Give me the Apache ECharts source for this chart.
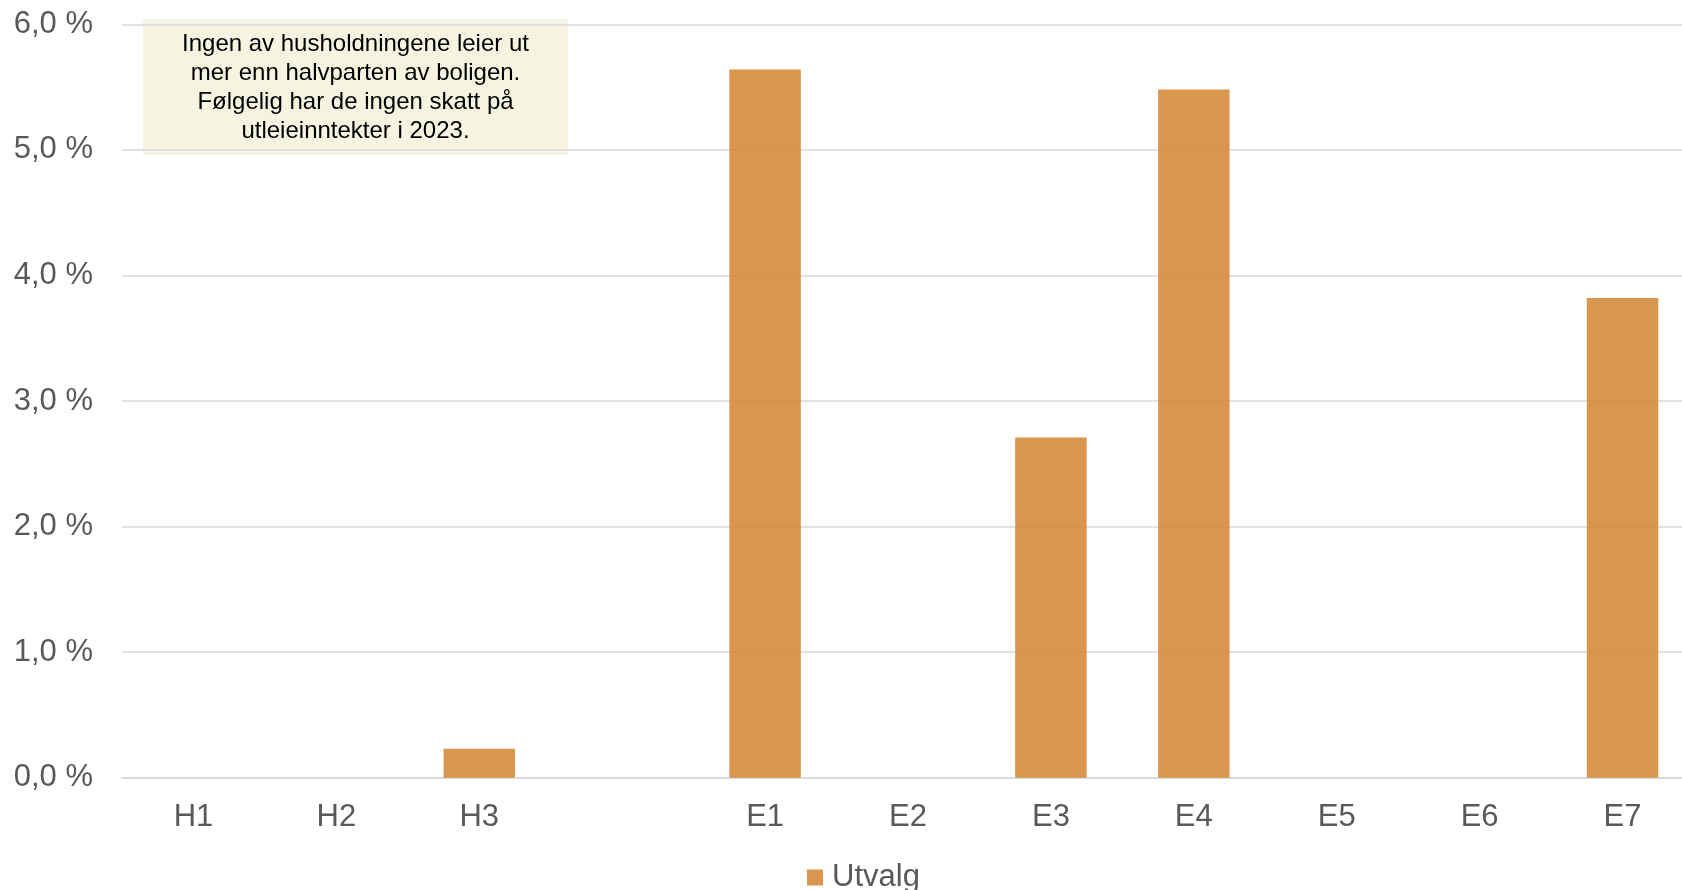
<!DOCTYPE html>
<html>
<head>
<meta charset="utf-8">
<script src="https://cdn.jsdelivr.net/npm/echarts@6/dist/echarts.min.js"></script>
<style>
  html, body { margin: 0; padding: 0; background: #fff; overflow: hidden; }
  /* litt bredere enn vinduet: plottet går ut over høyre kant, som i originalen */
  #chart { width: 1694px; height: 890px; }
</style>
</head>
<body>
<div id="chart"></div>
<script>
// kategorier (tom plass mellom H- og E-gruppene)
let categories = ['H1', 'H2', 'H3', '', 'E1', 'E2', 'E3', 'E4', 'E5', 'E6', 'E7']
  , utvalg = [0, 0, 0.23, '-', 5.64, 0, 2.71, 5.48, 0, 0, 3.82]
  , yTicks = [0, 1, 2, 3, 4, 5, 6]
  , noteText = 'Ingen av husholdningene leier ut\nmer enn halvparten av boligen.\nFølgelig har de ingen skatt på\nutleieinntekter i 2023.'

let font = "'Liberation Sans', Arial, sans-serif"
  , grey = '#595959'

let chart = echarts.init(document.getElementById('chart'));
chart.setOption({
  animation: false,
  textStyle: { fontFamily: font },
  grid: {
    left: 122,
    right: 0,
    top: 24.3,
    bottom: 112.3,
    containLabel: false
  },
  legend: {
    data: ['Utvalg'],
    left: 802,
    top: 857,
    icon: 'rect',
    itemWidth: 16,
    itemHeight: 16,
    textStyle: {
      color: grey,
      fontSize: 31,
      fontFamily: font,
      padding: [0, 0, 0, 4]
    }
  },
  xAxis: {
    type: 'category',
    data: categories,
    axisTick: { show: false },
    axisLine: { lineStyle: { color: '#D9D9D9', width: 1.5 } },
    axisLabel: {
      color: grey,
      fontSize: 31,
      fontFamily: font,
      margin: 24
    }
  },
  yAxis: {
    type: 'value',
    min: yTicks[0],
    max: yTicks[yTicks.length - 1],
    interval: 1,
    axisLine: { show: false },
    axisTick: { show: false },
    splitLine: { lineStyle: { color: '#D9D9D9', width: 1.5 } },
    axisLabel: {
      color: grey,
      fontSize: 31,
      fontFamily: font,
      margin: 29,
      formatter: v => v.toFixed(1).replace('.', ',') + ' %'
    }
  },
  series: [{
    name: 'Utvalg',
    type: 'bar',
    data: utvalg,
    barWidth: '50%',
    itemStyle: {
      color: 'rgba(214,137,59,0.9)'
    }
  }],
  graphic: [{
    type: 'group',
    left: 143,
    top: 19,
    children: [
      {
        type: 'rect',
        shape: { x: 0, y: 0, width: 425, height: 136 },
        style: { fill: 'rgba(243,243,222,0.92)' }
      },
      {
        type: 'text',
        x: 212.5,
        y: 69,
        style: {
          text: noteText,
          fill: '#000',
          font: '24px ' + font,
          lineHeight: 29,
          align: 'center',
          verticalAlign: 'middle'
        }
      }
    ]
  }]
});
</script>
</body>
</html>
